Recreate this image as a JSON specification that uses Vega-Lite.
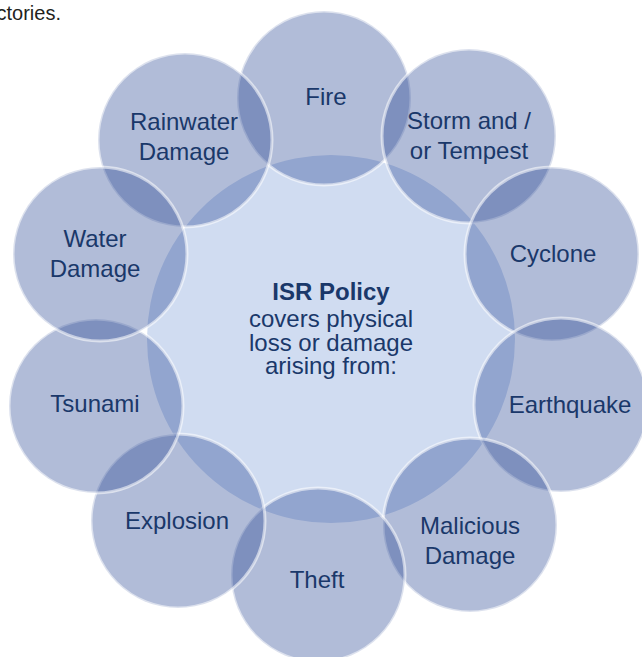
{
  "$schema": "https://vega.github.io/schema/vega-lite/v6.json",
  "width": 642,
  "height": 657,
  "padding": 0,
  "autosize": {"type": "none"},
  "background": "white",
  "config": {"view": {"stroke": null}},
  "datasets": {
    "circles": [
      {"name": "center", "role": "center", "cx": 331, "cy": 339, "d": 368},
      {"name": "Fire", "role": "outer", "cx": 324, "cy": 98, "d": 174, "lx": 326, "ly": 98, "label": ["Fire"]},
      {"name": "Storm", "role": "outer", "cx": 469, "cy": 136, "d": 174, "lx": 469, "ly": 122, "label": ["Storm and /", "or Tempest"]},
      {"name": "Cyclone", "role": "outer", "cx": 552, "cy": 254, "d": 174, "lx": 553, "ly": 255, "label": ["Cyclone"]},
      {"name": "Earthquake", "role": "outer", "cx": 561, "cy": 405, "d": 174, "lx": 570, "ly": 406, "label": ["Earthquake"]},
      {"name": "Malicious", "role": "outer", "cx": 470, "cy": 525, "d": 174, "lx": 470, "ly": 527, "label": ["Malicious", "Damage"]},
      {"name": "Theft", "role": "outer", "cx": 318, "cy": 575, "d": 174, "lx": 317, "ly": 581, "label": ["Theft"]},
      {"name": "Explosion", "role": "outer", "cx": 178, "cy": 521, "d": 174, "lx": 177, "ly": 522, "label": ["Explosion"]},
      {"name": "Tsunami", "role": "outer", "cx": 96, "cy": 406, "d": 174, "lx": 95, "ly": 405, "label": ["Tsunami"]},
      {"name": "Rainwater", "role": "outer", "cx": 185, "cy": 140, "d": 174, "lx": 184, "ly": 123, "label": ["Rainwater", "Damage"]},
      {"name": "Water", "role": "outer", "cx": 100, "cy": 254, "d": 174, "lx": 95, "ly": 240, "label": ["Water", "Damage"]}
    ],
    "texts": [
      {"kind": "title", "tx": 331, "ty": 293, "text": ["ISR Policy"]},
      {"kind": "body", "tx": 331, "ty": 320, "text": ["covers physical", "loss or damage", "arising from:"]},
      {"kind": "snippet", "tx": 61, "ty": 14, "text": ["ctories."]}
    ]
  },
  "layer": [
    {
      "data": {"name": "circles"},
      "transform": [{"filter": "datum.role === 'center'"}],
      "mark": {"type": "point", "shape": "circle", "filled": true, "fill": "#d0dcf1", "opacity": 1, "strokeWidth": 0},
      "encoding": {
        "x": {"field": "cx", "type": "quantitative", "scale": {"domain": [0, 642], "range": [0, 642], "zero": false, "nice": false}, "axis": null},
        "y": {"field": "cy", "type": "quantitative", "scale": {"domain": [0, 657], "range": [0, 657], "zero": false, "nice": false}, "axis": null},
        "size": {"field": "d", "type": "quantitative", "scale": {"type": "pow", "exponent": 2, "domain": [0, 400], "range": [0, 160000]}, "legend": null}
      }
    },
    {
      "data": {"name": "circles"},
      "transform": [{"filter": "datum.role === 'outer'"}],
      "mark": {"type": "point", "shape": "circle", "filled": true, "fill": "#204090", "fillOpacity": 0.35, "stroke": "#ffffff", "strokeOpacity": 0.55, "strokeWidth": 3, "opacity": 1},
      "encoding": {
        "x": {"field": "cx", "type": "quantitative", "scale": {"domain": [0, 642], "range": [0, 642], "zero": false, "nice": false}, "axis": null},
        "y": {"field": "cy", "type": "quantitative", "scale": {"domain": [0, 657], "range": [0, 657], "zero": false, "nice": false}, "axis": null},
        "size": {"field": "d", "type": "quantitative", "scale": {"type": "pow", "exponent": 2, "domain": [0, 400], "range": [0, 160000]}, "legend": null}
      }
    },
    {
      "data": {"name": "circles"},
      "transform": [{"filter": "datum.role === 'outer'"}],
      "mark": {"type": "text", "font": "Liberation Sans", "fontSize": 24, "lineHeight": 29.5, "color": "#1a386a", "align": "center", "baseline": "middle"},
      "encoding": {
        "x": {"field": "lx", "type": "quantitative", "scale": {"domain": [0, 642], "range": [0, 642], "zero": false, "nice": false}, "axis": null},
        "y": {"field": "ly", "type": "quantitative", "scale": {"domain": [0, 657], "range": [0, 657], "zero": false, "nice": false}, "axis": null},
        "text": {"field": "label"}
      }
    },
    {
      "data": {"name": "texts"},
      "transform": [{"filter": "datum.kind === 'title'"}],
      "mark": {"type": "text", "font": "Liberation Sans", "fontSize": 24, "fontWeight": "bold", "color": "#1a386a", "align": "center", "baseline": "middle"},
      "encoding": {
        "x": {"field": "tx", "type": "quantitative", "scale": {"domain": [0, 642], "range": [0, 642], "zero": false, "nice": false}, "axis": null},
        "y": {"field": "ty", "type": "quantitative", "scale": {"domain": [0, 657], "range": [0, 657], "zero": false, "nice": false}, "axis": null},
        "text": {"field": "text"}
      }
    },
    {
      "data": {"name": "texts"},
      "transform": [{"filter": "datum.kind === 'body'"}],
      "mark": {"type": "text", "font": "Liberation Sans", "fontSize": 24, "lineHeight": 23.5, "color": "#1a386a", "align": "center", "baseline": "middle"},
      "encoding": {
        "x": {"field": "tx", "type": "quantitative", "scale": {"domain": [0, 642], "range": [0, 642], "zero": false, "nice": false}, "axis": null},
        "y": {"field": "ty", "type": "quantitative", "scale": {"domain": [0, 657], "range": [0, 657], "zero": false, "nice": false}, "axis": null},
        "text": {"field": "text"}
      }
    },
    {
      "data": {"name": "texts"},
      "transform": [{"filter": "datum.kind === 'snippet'"}],
      "mark": {"type": "text", "font": "Liberation Sans", "fontSize": 20, "color": "#231f20", "align": "right", "baseline": "middle"},
      "encoding": {
        "x": {"field": "tx", "type": "quantitative", "scale": {"domain": [0, 642], "range": [0, 642], "zero": false, "nice": false}, "axis": null},
        "y": {"field": "ty", "type": "quantitative", "scale": {"domain": [0, 657], "range": [0, 657], "zero": false, "nice": false}, "axis": null},
        "text": {"field": "text"}
      }
    }
  ]
}
